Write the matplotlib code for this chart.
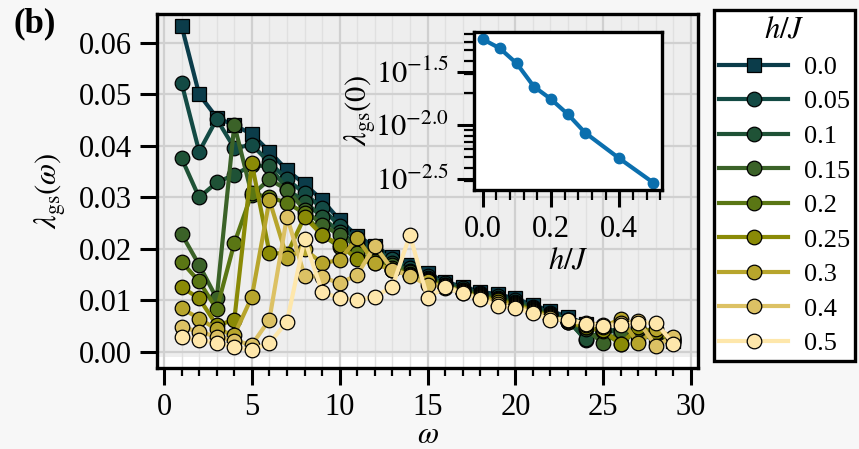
import matplotlib.pyplot as plt
import numpy as np
from matplotlib.ticker import MultipleLocator, FixedLocator, FixedFormatter, LogLocator, NullFormatter

plt.rcParams['font.family'] = 'serif'
plt.rcParams['font.serif'] = ['Liberation Serif', 'DejaVu Serif']
plt.rcParams['mathtext.fontset'] = 'stix'

# frequencies and field strengths
omega = np.arange(1, 30)
h_labels = ['0.0', '0.05', '0.1', '0.15', '0.2', '0.25', '0.3', '0.4', '0.5']
h_vals = [0.0, 0.05, 0.1, 0.15, 0.2, 0.25, 0.3, 0.4, 0.5]

lam_h000 = [0.0633, 0.0500, 0.0455, 0.0440, 0.0423, 0.0389, 0.0353, 0.0326, 0.0295, 0.0256,
            0.0225, 0.0205, 0.0185, 0.0168, 0.0153, 0.0136, 0.0127, 0.0117, 0.0112, 0.0104,
            0.0091, 0.0080, 0.0068, 0.0055, 0.0045, 0.0036, 0.0030, 0.0028, 0.0022]
lam_h005 = [0.0522, 0.0389, 0.0452, 0.0396, 0.0402, 0.0368, 0.0335, 0.0308, 0.0279, 0.0245,
            0.0218, 0.0198, 0.0180, 0.0163, 0.0148, 0.0134, 0.0124, 0.0114, 0.0108, 0.0100,
            0.0088, 0.0076, 0.0063, 0.0023, 0.0042, 0.0042, 0.0036, 0.0030, 0.0021]
lam_h010 = [0.0376, 0.0300, 0.0329, 0.0344, 0.0362, 0.0361, 0.0316, 0.0292, 0.0262, 0.0232,
            0.0210, 0.0190, 0.0172, 0.0158, 0.0144, 0.0131, 0.0121, 0.0112, 0.0105, 0.0097,
            0.0085, 0.0073, 0.0060, 0.0025, 0.0038, 0.0044, 0.0038, 0.0031, 0.0020]
lam_h015 = [0.0229, 0.0169, 0.0104, 0.0441, 0.0305, 0.0335, 0.0315, 0.0276, 0.0247, 0.0227,
            0.0205, 0.0185, 0.0168, 0.0155, 0.0142, 0.0130, 0.0120, 0.0110, 0.0103, 0.0095,
            0.0083, 0.0071, 0.0058, 0.0045, 0.0017, 0.0040, 0.0040, 0.0033, 0.0022]
lam_h020 = [0.0175, 0.0137, 0.0083, 0.0211, 0.0308, 0.0300, 0.0290, 0.0269, 0.0227, 0.0204,
            0.0192, 0.0176, 0.0163, 0.0152, 0.0140, 0.0128, 0.0118, 0.0108, 0.0101, 0.0093,
            0.0081, 0.0070, 0.0058, 0.0048, 0.0040, 0.0015, 0.0045, 0.0036, 0.0024]
lam_h025 = [0.0126, 0.0104, 0.0052, 0.0062, 0.0366, 0.0193, 0.0190, 0.0262, 0.0227, 0.0208,
            0.0180, 0.0172, 0.0160, 0.0150, 0.0138, 0.0126, 0.0116, 0.0107, 0.0100, 0.0092,
            0.0080, 0.0069, 0.0058, 0.0049, 0.0042, 0.0016, 0.0048, 0.0038, 0.0025]
lam_h030 = [0.0085, 0.0065, 0.0044, 0.0033, 0.0107, 0.0295, 0.0183, 0.0200, 0.0172, 0.0179,
            0.0221, 0.0172, 0.0159, 0.0150, 0.0137, 0.0125, 0.0115, 0.0106, 0.0098, 0.0090,
            0.0079, 0.0068, 0.0060, 0.0052, 0.0048, 0.0065, 0.0017, 0.0045, 0.0028]
lam_h040 = [0.0049, 0.0039, 0.0030, 0.0022, 0.0014, 0.0063, 0.0263, 0.0148, 0.0146, 0.0133,
            0.0150, 0.0206, 0.0160, 0.0148, 0.0130, 0.0128, 0.0116, 0.0104, 0.0094, 0.0088,
            0.0078, 0.0066, 0.0062, 0.0056, 0.0052, 0.0056, 0.0060, 0.0012, 0.0030]
lam_h050 = [0.0029, 0.0023, 0.0018, 0.0010, 0.0004, 0.0017, 0.0059, 0.0219, 0.0117, 0.0104,
            0.0101, 0.0107, 0.0127, 0.0227, 0.0105, 0.0126, 0.0114, 0.0103, 0.0089, 0.0086,
            0.0075, 0.0063, 0.0063, 0.0055, 0.0051, 0.0052, 0.0057, 0.0057, 0.0016]

series = [lam_h000, lam_h005, lam_h010, lam_h015, lam_h020,
          lam_h025, lam_h030, lam_h040, lam_h050]
colors = ['#0b3c4a', '#134a44', '#1f5236', '#3b6228', '#5a7614',
          '#8a8a06', '#b7a52c', '#dcc164', '#fee7ab']

fig = plt.figure(figsize=(8.59, 4.49), dpi=100, facecolor='#f7f7f7')
ax = fig.add_axes([157/859, 1-368/449, 541/859, 354/449])
ax.set_facecolor('#eeeeee')

for i, (lam, c, lab) in enumerate(zip(series, colors, h_labels)):
    ax.plot(omega, lam, color=c, lw=3.0, marker='s' if i == 0 else 'o',
            ms=10.5, mfc=c, mec='black', mew=0.9, label=lab, zorder=3 + i)

ax.set_xlim(-0.4, 30.4)
ax.set_ylim(-0.0031, 0.0656)
ax.axhspan(-0.0031, -0.0010, color='white', zorder=0.5, lw=0)

ax.xaxis.set_major_locator(MultipleLocator(5))
ax.xaxis.set_minor_locator(MultipleLocator(1))
ax.yaxis.set_major_locator(MultipleLocator(0.01))
ax.yaxis.set_major_formatter(plt.FormatStrFormatter('%.2f'))
ax.grid(which='major', color='#d0d0d0', lw=1.6, zorder=0)
ax.grid(which='minor', axis='x', color='#e0e0e0', lw=1.0, zorder=0)
ax.set_axisbelow(True)

ax.tick_params(which='major', direction='out', length=12, width=2.2, labelsize=22, pad=6)
ax.tick_params(which='minor', direction='out', length=6, width=1.6)
for s in ax.spines.values():
    s.set_linewidth(2.4)

ax.set_xlabel(r'$\omega$', fontsize=22, labelpad=-1)
ax.set_ylabel(r'$\lambda_{\rm gs}(\omega)$', fontsize=22, labelpad=8)

leg = ax.legend(loc='upper left', bbox_to_anchor=(714/859, 1-10/449),
                bbox_transform=fig.transFigure, title=r'$h/J$', fontsize=19,
                title_fontsize=22, fancybox=False, framealpha=1, edgecolor='black',
                handlelength=2.6, handletextpad=0.6, labelspacing=0.42,
                borderpad=0.2, borderaxespad=0)
leg.get_frame().set_linewidth(2.4)

# inset: value at the lowest frequency against h/J
lam_first = [lam[0] for lam in series]
axin = fig.add_axes([474/859, 1-190/449, 188/859, 158/449])
axin.set_facecolor('white')
axin.plot(h_vals, lam_first, color='#0b6fae', lw=3.0, marker='o', ms=7.5)
axin.set_yscale('log')
axin.yaxis.set_major_locator(FixedLocator([10**-1.5, 10**-2.0, 10**-2.5]))
axin.yaxis.set_major_formatter(FixedFormatter([r'$10^{-1.5}$', r'$10^{-2.0}$', r'$10^{-2.5}$']))
axin.yaxis.set_minor_locator(LogLocator(base=10, subs=np.arange(2, 10)))
axin.yaxis.set_minor_formatter(NullFormatter())
axin.xaxis.set_major_locator(MultipleLocator(0.2))
axin.xaxis.set_minor_locator(MultipleLocator(0.04))
axin.tick_params(which='major', direction='out', length=12, width=2.2, labelsize=22, pad=6)
axin.tick_params(which='minor', direction='out', length=7, width=1.6)
for s in axin.spines.values():
    s.set_linewidth(2.4)
axin.set_xlabel(r'$h/J$', fontsize=22, labelpad=2)
axin.set_ylabel(r'$\lambda_{\rm gs}(0)$', fontsize=22, labelpad=-2)

fig.text(14/859, 1-7/449, '(b)', fontsize=25, fontweight='bold', va='top', ha='left')

fig.savefig('out.png', dpi=100, facecolor=fig.get_facecolor())
